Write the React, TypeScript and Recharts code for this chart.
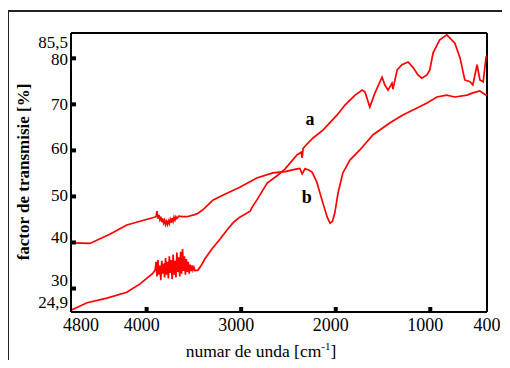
import { Line, LineChart, ReferenceDot, ReferenceLine, XAxis, YAxis } from "recharts";

// curve a: wavenumber [cm-1] and transmission [%]
const aWave = [
  4800, 4630, 4420, 4210, 4070, 3935, 3910, 3900, 3890, 3880, 3870, 3860, 3850, 3840, 3830, 3820,
  3810, 3800, 3790, 3780, 3770, 3760, 3750, 3740, 3730, 3720, 3710, 3700, 3690, 3680, 3670, 3660,
  3650, 3640, 3630, 3620, 3610, 3600, 3590, 3580, 3570, 3560, 3550, 3540, 3530, 3520, 3510, 3500,
  3490, 3457, 3420, 3385, 3310, 3225, 3140, 3080, 3015, 2905, 2880, 2835, 2725, 2620, 2535, 2410,
  2365, 2355, 2345, 2325, 2240, 2135, 1985, 1900, 1795, 1720, 1690, 1640, 1585, 1510, 1480, 1447,
  1405, 1395, 1350, 1300, 1235, 1185, 1130, 1090, 1035, 1005, 970, 900, 825, 740, 685, 635, 580,
  550, 505, 475, 440, 410, 400,
];
const aTrans = [
  25.3, 26.9, 27.9, 29.2, 31.0, 33.3, 34.0, 35.8, 32.6, 36.2, 33.0, 35.0, 31.8, 36.0, 33.2, 35.4,
  32.4, 36.6, 33.0, 35.8, 32.2, 37.0, 33.4, 36.2, 32.0, 37.4, 33.0, 36.0, 32.4, 37.8, 33.6, 36.8,
  32.6, 38.0, 33.2, 38.6, 33.8, 37.0, 33.0, 36.4, 33.6, 35.8, 33.2, 35.2, 33.8, 35.0, 34.0, 34.6,
  33.9, 34.0, 35.1, 36.4, 38.6, 40.7, 43.0, 44.4, 45.5, 46.8, 47.8, 49.2, 52.9, 54.5, 56.0, 59.0,
  59.6, 58.4, 60.4, 60.9, 62.7, 64.4, 67.7, 69.9, 72.0, 73.1, 72.7, 69.4, 72.5, 75.9, 74.2, 73.1,
  74.6, 73.3, 77.5, 78.6, 79.2, 78.1, 76.4, 75.7, 76.4, 77.5, 81.2, 84.0, 85.1, 83.3, 80.1, 75.3,
  74.9, 74.2, 78.6, 75.3, 74.9, 80.3, 80.5,
];

// curve b
const bWave = [
  4800, 4600, 4390, 4210, 4070, 3965, 3900, 3890, 3880, 3870, 3860, 3850, 3840, 3830, 3820, 3810,
  3800, 3790, 3780, 3770, 3760, 3750, 3740, 3730, 3720, 3710, 3700, 3690, 3680, 3660, 3620, 3575,
  3500, 3460, 3400, 3340, 3300, 3190, 3015, 2835, 2665, 2535, 2410, 2380, 2355, 2325, 2290, 2250,
  2200, 2145, 2090, 2060, 2035, 2010, 1975, 1925, 1850, 1745, 1605, 1425, 1290, 1140, 1035, 930,
  825, 740, 610, 550, 475, 410, 400,
];
const bTrans = [
  39.9, 39.8, 41.8, 43.8, 44.6, 45.2, 45.6, 46.8, 45.2, 46.0, 45.0, 45.6, 44.4, 45.2, 44.2, 44.8,
  43.9, 44.6, 43.9, 44.7, 44.1, 45.0, 44.3, 45.3, 44.6, 45.5, 44.9, 45.6, 45.2, 45.7, 45.6, 45.6,
  46.0, 46.3, 47.2, 48.4, 49.2, 50.3, 52.0, 54.0, 55.1, 55.4, 56.0, 56.1, 54.9, 56.0, 55.8, 55.3,
  53.1, 49.2, 45.5, 44.2, 44.6, 46.4, 50.8, 55.1, 57.9, 60.1, 63.4, 66.0, 67.7, 69.2, 70.3, 71.6,
  72.0, 71.6, 72.0, 72.5, 72.9, 72.0, 72.2,
];

const xTicks = [4800, 4000, 3000, 2000, 1000, 400];
const yTicks = [24.9, 30, 40, 50, 60, 70, 80, 85.5];

const aData = aWave.map((w, i) => ({ w, t: aTrans[i] }));
const bData = bWave.map((w, i) => ({ w, t: bTrans[i] }));

const FONT = "'Liberation Serif', 'Times New Roman', serif";
const RED = "#ff0000";

function fmt(v: number) {
  return String(v).replace(".", ",");
}

function XTick({ x, y, payload }: any) {
  const v = payload.value;
  const mark = v !== 4800 && v !== 400;
  const tx = v === 4800 ? x - 8 : v === 400 ? x : x - 5;
  return (
    <g>
      {mark && <rect x={x - 2} y={y - 5} width={4} height={5} fill="#000" />}
      <text
        x={tx}
        y={y + 19}
        textAnchor={v === 4800 ? "start" : "middle"}
        fontSize={18}
        fontFamily={FONT}
        fill="#000"
      >
        {v}
      </text>
    </g>
  );
}

const yShift: Record<string, number> = { "85.5": 9, "24.9": -9.5, "30": -8, "40": -5, "50": -1, "60": -2, "80": 1 };

function YTick({ x, y, payload }: any) {
  const v = payload.value;
  const mark = v !== 85.5 && v !== 24.9;
  return (
    <g>
      {mark && <rect x={x} y={y - 2} width={5} height={4} fill="#000" />}
      <text
        x={x - 3}
        y={y + (yShift[String(v)] ?? 0)}
        textAnchor="end"
        dominantBaseline="central"
        fontSize={17}
        fontFamily={FONT}
        fill="#000"
      >
        {fmt(v)}
      </text>
    </g>
  );
}

export default function App() {
  return (
    <div style={{ position: "relative", width: 510, height: 368, margin: -8, overflow: "hidden", background: "#fff" }}>
      <div
        style={{
          position: "absolute",
          left: 7,
          top: 10,
          width: 600,
          height: 600,
          border: "2px solid #222",
        }}
      />
      <div style={{ position: "absolute", left: 0, top: 0 }}>
        <LineChart width={510} height={368} margin={{ top: 33, right: 23, bottom: 0, left: 0 }}>
          <XAxis
            type="number"
            dataKey="w"
            domain={[400, 4800]}
            reversed
            ticks={xTicks}
            interval={0}
            height={56}
            tickSize={0}
            tickMargin={0}
            tickLine={false}
            axisLine={{ stroke: "#000", strokeWidth: 2 }}
            tick={<XTick />}
            allowDataOverflow
            label={{
              content: () => (
                <text x={261} y={357} textAnchor="middle" fontSize={17.5} fontFamily={FONT} fill="#000">
                  numar de unda [cm
                  <tspan fontSize={11} dy={-7}>-1</tspan>
                  <tspan dy={7}>]</tspan>
                </text>
              ),
            }}
          />
          <YAxis
            type="number"
            domain={[24.9, 85.5]}
            ticks={yTicks}
            interval={0}
            width={71}
            tickSize={0}
            tickMargin={0}
            tickLine={false}
            axisLine={{ stroke: "#000", strokeWidth: 2 }}
            tick={<YTick />}
            allowDataOverflow
            label={{
              content: () => (
                <text
                  x={23}
                  y={172}
                  transform="rotate(-90 23 172)"
                  textAnchor="middle"
                  dominantBaseline="central"
                  fontSize={17}
                  fontWeight="bold"
                  fontFamily={FONT}
                  fill="#000"
                >
                  factor de transmisie [%]
                </text>
              ),
            }}
          />
          <ReferenceLine y={85.5} stroke="#000" strokeWidth={2} />
          <ReferenceLine x={400} stroke="#000" strokeWidth={2} />
          <Line
            data={bData}
            dataKey="t"
            type="linear"
            stroke={RED}
            strokeWidth={1.7}
            dot={false}
            isAnimationActive={false}
          />
          <Line
            data={aData}
            dataKey="t"
            type="linear"
            stroke={RED}
            strokeWidth={1.7}
            dot={false}
            isAnimationActive={false}
          />
          <ReferenceDot
            x={2272}
            y={67}
            r={1}
            fill="none"
            stroke="none"
            label={{ value: "a", position: "center", fontSize: 18, fontWeight: "bold", fontFamily: FONT, fill: "#000" }}
          />
          <ReferenceDot
            x={2307}
            y={49.9}
            r={1}
            fill="none"
            stroke="none"
            label={{ value: "b", position: "center", fontSize: 18, fontWeight: "bold", fontFamily: FONT, fill: "#000" }}
          />
        </LineChart>
      </div>
    </div>
  );
}
